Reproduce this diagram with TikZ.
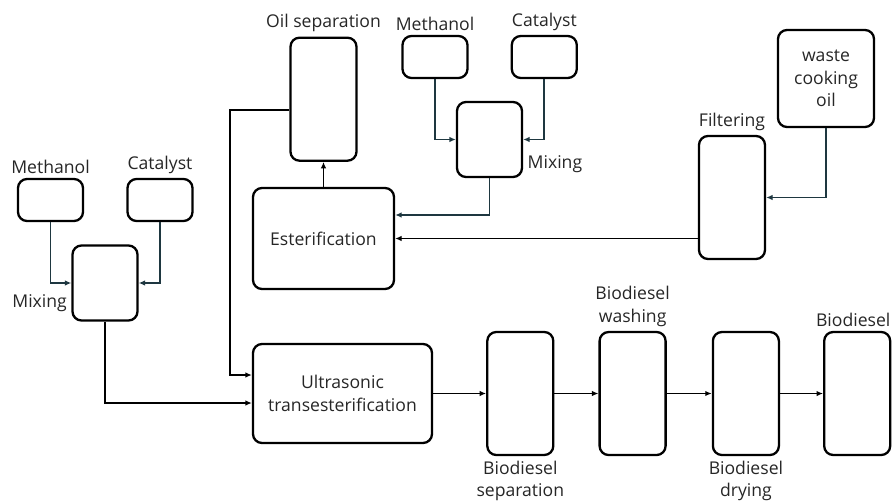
\documentclass[tikz,border=0pt]{standalone}
\usepackage{fontspec}
\setmainfont{Open Sans}
\usetikzlibrary{positioning,arrows.meta}
\definecolor{slate}{RGB}{30,55,64}

\begin{document}
\begin{tikzpicture}[x=1pt,y=-1pt]
		\tikzstyle{unit}=[rectangle, rounded corners=9pt, line width=2.3pt, draw=black, font=\fontsize{17.6}{22.5}\selectfont, text=black!85, align=center, inner sep=0pt]
		\tikzstyle{feed}=[unit, minimum width=65pt, minimum height=42pt]
		\tikzstyle{mixer}=[unit, minimum width=65pt, minimum height=75pt]
		\tikzstyle{tall}=[unit, minimum width=66pt, minimum height=123pt]
		\tikzstyle{connect}=[-{Latex[length=6.5pt,width=5.5pt]}, line width=1.8pt]
		\tikzstyle{feedline}=[connect, draw=slate]
		\tikzstyle{every label}=[font=\fontsize{17.6}{22.5}\selectfont, text=black!85, align=center, label distance=1pt]
		\useasboundingbox (0,0) rectangle (893,501);
		\node[feed] (methL) at (50.5,200) [label=above:Methanol] {};
		\node[feed] (catL) at (160,200) [label=above:Catalyst] {};
		\node[mixer] (mixL) at (105,283) [label={[yshift=-20pt]left:Mixing}] {};
		\node[unit, minimum width=179pt, minimum height=99pt] (ultra) at (342.5,393.5) {Ultrasonic\\transesterification};
		\node[tall] (sep) [right=53pt of ultra, label={below:{Biodiesel\\separation}}] {};
		\node[tall] (wash) [right=44pt of sep, label={above:{Biodiesel\\washing}}] {};
		\node[tall] (dry) [right=45pt of wash, label={below:{Biodiesel\\drying}}] {};
		\node[tall] (bio) [right=43pt of dry, label={[xshift=-4pt]above:Biodiesel}] {};
		\node[unit, minimum width=141pt, minimum height=101pt] (ester) at (323.5,238.5) {Esterification};
		\node[tall] (oilsep) [above=25pt of ester, label=above:Oil separation] {};
		\node[feed] (methT) at (435,57) [label=above:Methanol] {};
		\node[feed] (catT) [right=42pt of methT, label=above:Catalyst] {};
		\node[mixer] (mixT) at (489.5,139.5) [label={[yshift=-25pt]right:Mixing}] {};
		\node[tall] (filter) at (732,197.5) [label=above:Filtering] {};
		\node[unit, minimum width=96pt, minimum height=97pt] (waste) at (826,78.5) {waste\\cooking\\oil};
		\coordinate (oilout) at ([yshift=-10.5pt]oilsep.west);
		\coordinate (ultrain) at ([yshift=18.5pt]ultra.west);
		\coordinate (ultrain2) at ([yshift=-9.5pt]ultra.west);
		\coordinate (esterin) at ([yshift=23.5pt]ester.east);
		\draw[feedline] (methL) |- (mixL);
		\draw[feedline] (catL) |- (mixL);
		\draw[connect] (mixL) |- (ultrain2);
		\draw[connect] (oilout) -- ++(-59,0) |- (ultrain);
		\draw[connect] (ester.north) -- (ester.north |- oilsep.south);
		\draw[feedline] (methT) |- (mixT);
		\draw[feedline] (catT) |- (mixT);
		\draw[feedline] (mixT) |- (esterin);
		\draw[connect] (filter.west |- ester.east) -- (ester.east);
		\draw[feedline] (waste) |- (filter);
		\path (ultra) edge [connect] (sep)
		(sep) edge [connect] (wash)
		(wash) edge [connect] (dry)
		(dry) edge [connect] (bio);
\end{tikzpicture}
\end{document}
